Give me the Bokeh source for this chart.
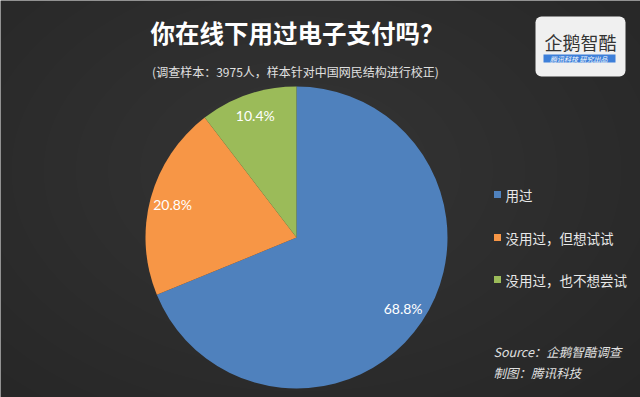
import math
from bokeh.plotting import figure
from bokeh.models import Range1d, ColumnDataSource
from bokeh.core.properties import value
from bokeh.embed import file_html
from bokeh.resources import INLINE

# ---- data ----
categories = ["用过", "没用过，但想试试", "没用过，也不想尝试"]
shares = [68.8, 20.8, 10.4]
colors = ["#4f81bd", "#f79646", "#9bbb59"]
pct_labels = ["68.8%", "20.8%", "10.4%"]

title = "你在线下用过电子支付吗？"
subtitle = "(调查样本：3975人，样本针对中国网民结构进行校正)"
source_lines = ["Source：企鹅智酷调查", "制图：腾讯科技"]

W, H = 640, 397
BG = "#262626"
CJK = "Noto Sans CJK SC"

p = figure(width=W, height=H, output_backend="svg", toolbar_location=None,
           x_range=Range1d(0, W), y_range=Range1d(0, H),
           min_border=0)
p.axis.visible = False
p.grid.visible = False
p.outline_line_color = None
p.background_fill_color = BG
p.border_fill_color = BG

def Y(ry):
    return H - ry

# ---- soft radial background glow ----
for i in range(14):
    k = 1.0 - i / 14.0
    p.ellipse(x=[300], y=[Y(170)], width=[900 * k], height=[620 * k],
              fill_color="white", fill_alpha=0.009, line_color=None)

# ---- pie ----
cx, cy, r = 296, Y(237), 151
total = sum(shares)
starts, ends = [], []
cum = 0.0
for s in shares:
    a0 = math.pi / 2 - 2 * math.pi * cum / total
    cum += s
    a1 = math.pi / 2 - 2 * math.pi * cum / total
    starts.append(a0)
    ends.append(a1)

src = ColumnDataSource(dict(start=starts, end=ends, color=colors,
                            x=[cx] * 3, y=[cy] * 3))
p.wedge(x="x", y="y", radius=r, start_angle="start", end_angle="end",
        direction="clock", fill_color="color", line_color=None, source=src)

# percentage labels (placed along the mid-angle of each slice)
lab_k = 0.85
lx, ly = [], []
for a0, a1 in zip(starts, ends):
    m = (a0 + a1) / 2
    lx.append(cx + r * lab_k * math.cos(m))
    ly.append(cy + r * lab_k * math.sin(m))
p.text(x=lx, y=ly, text=pct_labels, text_color="white",
       text_font=value("Lato"), text_font_size="14px",
       text_align="center", text_baseline="middle")

# ---- titles ----
p.text(x=[297], y=[Y(32)], text=[title], text_color="white",
       text_font=value(CJK), text_font_style="bold", text_font_size="24.5px",
       text_align="center", text_baseline="middle")
p.text(x=[295], y=[Y(71)], text=[subtitle], text_color="#e0e0e0",
       text_font=value(CJK), text_font_size="12px",
       text_align="center", text_baseline="middle")

# ---- legend ----
leg_y = [194, 237, 279]
p.rect(x=[497] * 3, y=[Y(v) for v in leg_y], width=7, height=7,
       fill_color=colors, line_color=None)
p.text(x=[505] * 3, y=[Y(v) for v in leg_y], text=categories,
       text_color="#e8e8e8", text_font=value(CJK), text_font_size="13.5px",
       text_align="left", text_baseline="middle")

# ---- source ----
p.text(x=[493, 493], y=[Y(351), Y(372)], text=source_lines,
       text_color="#e0e0e0", text_font=value(CJK), text_font_style="italic",
       text_font_size="12.5px", text_align="left", text_baseline="middle")

# ---- logo ----
p.rect(x=[580], y=[Y(46)], width=90, height=60, fill_color="#f0f0f0",
       line_color=None, border_radius=6)
p.text(x=[580], y=[Y(41)], text=["企鹅智酷"], text_color="#333333",
       text_font=value(CJK), text_font_size="18px",
       text_align="center", text_baseline="middle")
p.rect(x=[579], y=[Y(58)], width=72, height=8, fill_color="#3d7fd9",
       line_color=None)
p.text(x=[579], y=[Y(58)], text=["腾讯科技  研究出品"], text_color="white",
       text_font=value(CJK), text_font_style="italic", text_font_size="7px",
       text_align="center", text_baseline="middle")

open("out.html", "w").write(file_html(p, INLINE))
